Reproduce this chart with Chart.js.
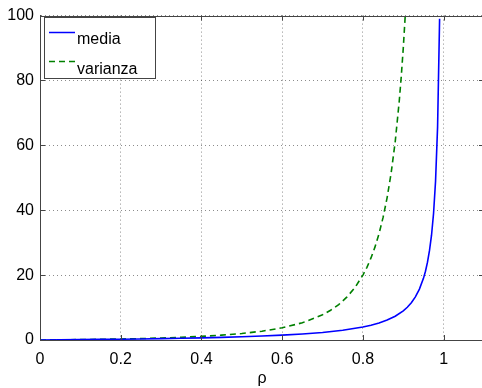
<!DOCTYPE html>
<html>
<head>
<meta charset="utf-8">
<script src="https://cdn.jsdelivr.net/npm/chart.js@4/dist/chart.umd.min.js"></script>
<style>
html,body{margin:0;padding:0;background:#fff;overflow:hidden;}
#wrap{width:485px;height:388px;position:relative;}
</style>
</head>
<body>
<div id="wrap"><canvas id="c"></canvas></div>
<script>
// Data
const rhoMedia = [0,0.05,0.1,0.15,0.2,0.25,0.3,0.35,0.4,0.45,0.5,0.55,0.6,0.65,0.7,0.75,0.8,0.82,0.84,0.86,0.88,0.9,0.91,0.92,0.93,0.94,0.95,0.955,0.96,0.965,0.97,0.975,0.98,0.985,0.99];
const media = [0,0.05,0.11,0.18,0.25,0.33,0.43,0.54,0.67,0.82,1.0,1.22,1.5,1.86,2.33,3.0,4.0,4.56,5.25,6.14,7.33,9.0,10.1,11.5,13.3,15.7,19.0,21.2,24.0,27.6,32.3,39.0,49.0,65.7,99.0];
const rhoVarianza = [0,0.05,0.1,0.15,0.2,0.25,0.3,0.35,0.4,0.45,0.5,0.55,0.6,0.65,0.7,0.72,0.74,0.76,0.78,0.8,0.81,0.82,0.83,0.84,0.85,0.86,0.87,0.88,0.89,0.895,0.9,0.905];
const varianza = [0,0.06,0.12,0.21,0.31,0.44,0.61,0.83,1.11,1.49,2.0,2.72,3.75,5.31,7.78,9.18,10.9,13.2,16.1,20.0,22.4,25.3,28.7,32.8,37.8,43.9,51.5,61.1,73.6,81.2,90.0,100.3];
const seriesLabels = ['media','varianza'];
const xTicks = [0,0.2,0.4,0.6,0.8,1];
const yTicks = [0,20,40,60,80,100];
const xTitle = 'ρ';

const FONT = '"Liberation Sans", Arial, Helvetica, sans-serif';
const AXIS = '#444';

const toXY = (xs, ys) => xs.map((v, i) => ({x: v, y: ys[i]}));

const overlay = {
  id: 'overlay',
  afterDraw(chart) {
    const {ctx, chartArea: a, scales: {x, y}} = chart;
    ctx.save();
    ctx.strokeStyle = AXIS;
    ctx.lineWidth = 1;
    ctx.setLineDash([]);
    ctx.beginPath();
    ctx.moveTo(a.left, Math.round(a.top) + 0.5);
    ctx.lineTo(a.right, Math.round(a.top) + 0.5);
    ctx.stroke();
    const L = 5;
    ctx.beginPath();
    xTicks.forEach(v => {
      const px = Math.round(x.getPixelForValue(v)) + 0.5;
      ctx.moveTo(px, a.bottom); ctx.lineTo(px, a.bottom - L);
      ctx.moveTo(px, a.top); ctx.lineTo(px, a.top + L);
    });
    yTicks.forEach(v => {
      const py = Math.round(y.getPixelForValue(v)) + 0.5;
      ctx.moveTo(a.left, py); ctx.lineTo(a.left + L, py);
      ctx.moveTo(a.right, py); ctx.lineTo(a.right - L, py);
    });
    ctx.stroke();

    // legend box
    const bx = 44.5, by = 17.5, bw = 111, bh = 61;
    ctx.fillStyle = '#fff';
    ctx.fillRect(bx, by, bw, bh);
    ctx.strokeStyle = AXIS;
    ctx.strokeRect(bx, by, bw, bh);
    const ds = chart.data.datasets;
    const rows = [{ly: 32.5, ty: 44}, {ly: 61.5, ty: 74}];
    ds.forEach((d, i) => {
      ctx.strokeStyle = d.borderColor;
      ctx.lineWidth = 1.5;
      ctx.setLineDash(d.borderDash || []);
      ctx.beginPath();
      ctx.moveTo(49, rows[i].ly);
      ctx.lineTo(75, rows[i].ly);
      ctx.stroke();
      ctx.setLineDash([]);
      ctx.fillStyle = '#000';
      ctx.font = '16px ' + FONT;
      ctx.textBaseline = 'alphabetic';
      ctx.textAlign = 'left';
      ctx.fillText(d.label, 77, rows[i].ty);
    });
    ctx.restore();
  }
};

new Chart(document.getElementById('c'), {
  type: 'line',
  data: {
    datasets: [
      {label: seriesLabels[0], data: toXY(rhoMedia, media), borderColor: '#0000ff', borderWidth: 1.6, pointRadius: 0, tension: 0, fill: false},
      {label: seriesLabels[1], data: toXY(rhoVarianza, varianza), borderColor: '#008000', borderWidth: 1.6, borderDash: [6, 4], pointRadius: 0, tension: 0, fill: false}
    ]
  },
  options: {
    responsive: true,
    maintainAspectRatio: false,
    animation: false,
    layout: {padding: {top: 14, right: 1, left: 0, bottom: 0}},
    plugins: {legend: {display: false}, tooltip: {enabled: false}},
    scales: {
      x: {
        type: 'linear', min: 0, max: 1.1,
        afterBuildTicks: s => { s.ticks = xTicks.map(v => ({value: v})); },
        afterFit: s => { s.height = 48; },
        grid: {color: 'rgba(0,0,0,0.45)', drawTicks: false, lineWidth: 1},
        border: {display: true, color: AXIS, width: 1, dash: [1, 3]},
        ticks: {color: '#000', font: {family: FONT, size: 16}, padding: 10, maxRotation: 0,
          callback: v => String(v)},
        title: {display: true, text: xTitle, color: '#000', font: {family: FONT, size: 16}, padding: {top: 0, bottom: 0}}
      },
      y: {
        type: 'linear', min: 0, max: 100,
        afterBuildTicks: s => { s.ticks = yTicks.map(v => ({value: v})); },
        afterFit: s => { s.width = 40; },
        grid: {color: 'rgba(0,0,0,0.45)', drawTicks: false, lineWidth: 1},
        border: {display: true, color: AXIS, width: 1, dash: [1, 3]},
        ticks: {color: '#000', font: {family: FONT, size: 16}, padding: 6,
          callback: v => String(v)}
      }
    }
  },
  plugins: [overlay]
});
</script>
</body>
</html>
